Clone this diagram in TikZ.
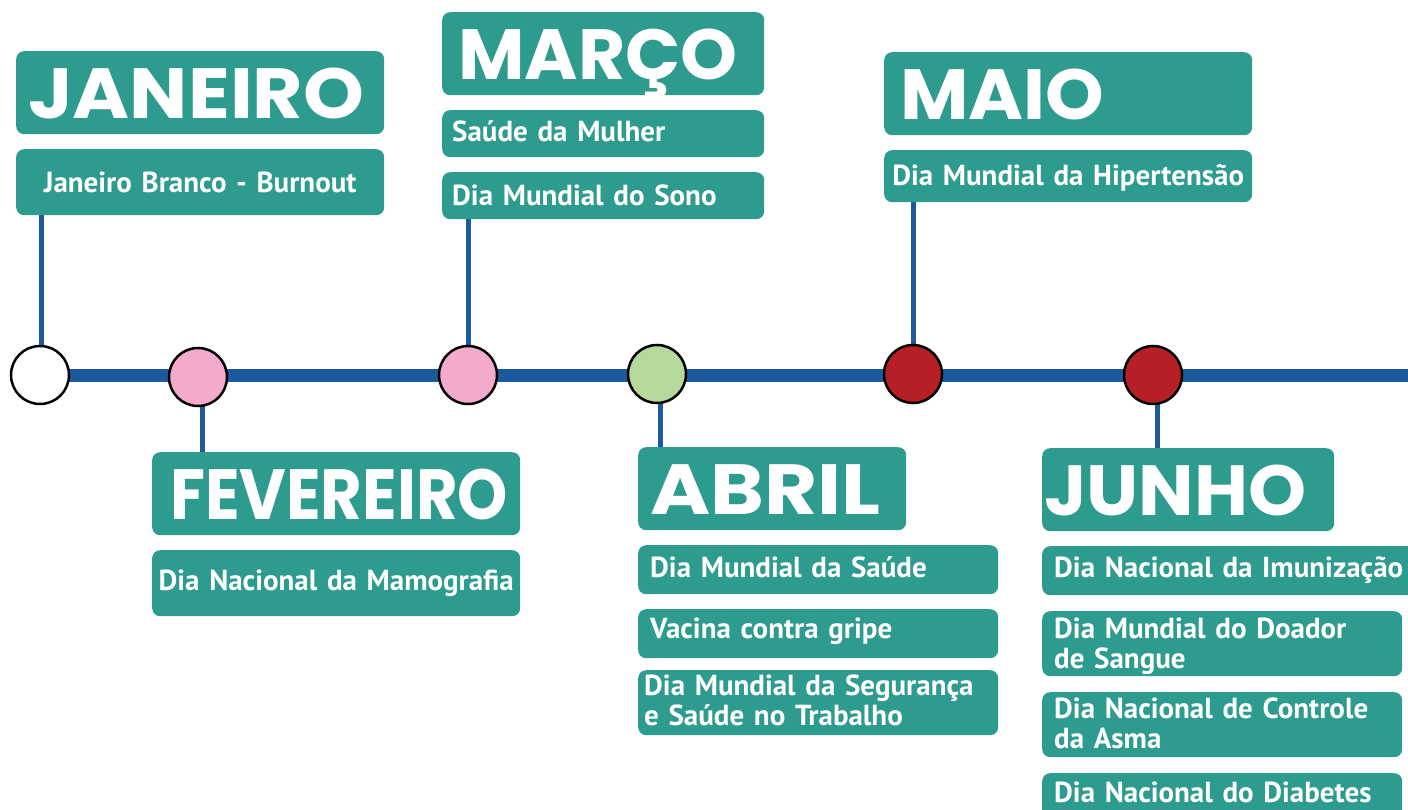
\documentclass[tikz,border=0pt]{standalone}
\usepackage{fontspec}
\newfontfamily\monthfont{Poppins}
\newfontfamily\entryfont{PT Sans}
\definecolor{boxteal}{RGB}{46,155,143}
\definecolor{lineblue}{RGB}{28,90,159}
\definecolor{dotpink}{RGB}{244,171,203}
\definecolor{dotgreen}{RGB}{181,217,155}
\definecolor{dotred}{RGB}{183,31,39}
\pgfdeclarelayer{bg}
\pgfsetlayers{bg,main}
\tikzset{
  box/.style={fill=boxteal, text=white, rounded corners=8pt, anchor=north west, inner ysep=0pt},
  month/.style={box, font=\monthfont\bfseries\fontsize{71}{71}\selectfont, align=left, text height=67pt, text depth=16pt},
  entry/.style={box, font=\entryfont\bfseries\fontsize{29}{30}\selectfont},
  dot/.style={circle, draw=black, line width=2.5pt, minimum size=58pt, inner sep=0pt},
  timeline/.style={lineblue, line width=13pt},
  stem/.style={lineblue, line width=5pt}
}
\begin{document}
\begin{tikzpicture}[x=1pt,y=-1pt]
  \useasboundingbox (0,0) rectangle (1408,810);
  \clip (0,0) rectangle (1408,810);

  % months
  \node[month, inner xsep=12pt, text width=344pt] (jan) at (16,51) {\scalebox{1.09}[1]{JANEIRO}};
  \node[month, inner xsep=18pt, text width=332pt] (fev) at (152,452) {\scalebox{0.9}[1]{FEVEREIRO}};
  \node[month, inner xsep=16pt, text width=290pt] (mar) at (442,12) {\scalebox{1.02}[1]{MARÇO}};
  \node[month, inner xsep=12pt, text width=244pt] (abr) at (638,447) {\scalebox{1.15}[1]{ABRIL}};
  \node[month, inner xsep=16pt, text width=336pt] (mai) at (884,52) {\scalebox{1.05}[1]{MAIO}};
  \node[month, inner xsep=2pt, text width=288pt] (jun) at (1042,448) {\scalebox{1.04}[1]{JUNHO}};

  % dates
  \node[entry, align=center, inner xsep=10pt, text width=348pt, text height=43pt, text depth=23pt] (janA) at (16,149) {Janeiro Branco - Burnout};
  \node[entry, align=center, inner xsep=4pt, text width=360pt, text height=40pt, text depth=26pt] (fevA) at (152,550) {Dia Nacional da Mamografia};
  \node[entry, align=left, inner xsep=10pt, text width=302pt, text height=31pt, text depth=16pt] (marA) at (442,110) {Saúde da Mulher};
  \node[entry, align=left, inner xsep=10pt, text width=302pt, text height=33pt, text depth=14pt] (marB) at (442,172) {Dia Mundial do Sono};
  \node[entry, align=center, inner xsep=4pt, text width=360pt, text height=35pt, text depth=17pt] (maiA) at (884,150) {Dia Mundial da Hipertensão};
  \node[entry, align=left, inner xsep=12pt, text width=336pt, text height=32pt, text depth=17pt] (abrA) at (638,545) {Dia Mundial da Saúde};
  \node[entry, align=left, inner xsep=12pt, text width=336pt, text height=29pt, text depth=20pt] (abrB) at (638,609) {Vacina contra gripe};
  \node[entry, align=left, inner xsep=6pt, text width=348pt, text height=25pt, text depth=40pt] (abrC) at (638,670) {Dia Mundial da Segurança\\e Saúde no Trabalho};
  \node[entry, align=left, inner xsep=12pt, text width=360pt, text height=31pt, text depth=18pt] (junA) at (1042,546) {Dia Nacional da Imunização};
  \node[entry, align=left, inner xsep=12pt, text width=336pt, text height=27pt, text depth=38pt] (junB) at (1042,611) {Dia Mundial do Doador\\de Sangue};
  \node[entry, align=left, inner xsep=12pt, text width=336pt, text height=26pt, text depth=39pt] (junC) at (1042,692) {Dia Nacional de Controle\\da Asma};
  \node[entry, align=left, inner xsep=12pt, text width=336pt, text height=29pt, text depth=31pt] (junD) at (1042,773) {Dia Nacional do Diabetes};

  % timeline dots
  \node[dot, fill=white] (dJan) at (40,375) {};
  \node[dot, fill=dotpink] (dFev) at (198,377) {};
  \node[dot, fill=dotpink] (dMar) at (468,375) {};
  \node[dot, fill=dotgreen] (dAbr) at (657,374) {};
  \node[dot, fill=dotred] (dMai) at (913,374) {};
  \node[dot, fill=dotred] (dJun) at (1153,375) {};
  \coordinate (tEnd) at (1420,375);

  \begin{pgfonlayer}{bg}
    \draw[timeline] (dJan.center) -- (tEnd);
    \draw[stem] ([xshift=1pt]dJan.center) -- ([xshift=1pt]dJan |- janA.south);
    \draw[stem] ([xshift=4pt]dFev.center) -- ([xshift=4pt]dFev |- fev.north);
    \draw[stem] (dMar.center) -- (dMar |- marB.south);
    \draw[stem] ([xshift=3pt]dAbr.center) -- ([xshift=3pt]dAbr |- abr.north);
    \draw[stem] (dMai.center) -- (dMai |- maiA.south);
    \draw[stem] ([xshift=4pt]dJun.center) -- ([xshift=4pt]dJun |- jun.north);
  \end{pgfonlayer}
\end{tikzpicture}
\end{document}
